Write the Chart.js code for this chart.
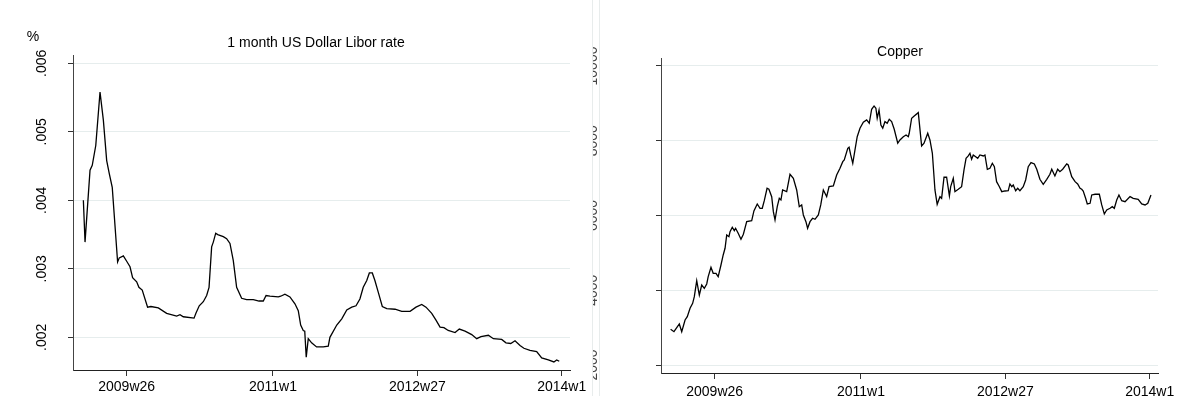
<!DOCTYPE html>
<html><head><meta charset="utf-8">
<script src="https://cdn.jsdelivr.net/npm/chart.js@4/dist/chart.umd.min.js"></script>
<style>
html,body{margin:0;padding:0;background:#fff;width:1180px;height:396px;overflow:hidden}
#l{position:absolute;left:0;top:0}
#r{position:absolute;left:590px;top:0}
</style></head><body>
<canvas id="l" width="590" height="396"></canvas>
<canvas id="r" width="590" height="396"></canvas>
<script>
const FONT = '"Liberation Sans", Arial, Helvetica, sans-serif';

const weekTicks = [2573, 2652, 2730, 2808];
const weekTickLabels = ['2009w26', '2011w1', '2012w27', '2014w1'];
const liborTicks = [0.002, 0.003, 0.004, 0.005, 0.006];
const liborTickLabels = ['.002', '.003', '.004', '.005', '.006'];
const copperTicks = [2000, 4000, 6000, 8000, 10000];
const copperTickLabels = ['2000', '4000', '6000', '8000', '10000'];

const liborWeek = [2549.6, 2550.5, 2553.2, 2554.4, 2556.3, 2558.6, 2560.4, 2562.2, 2563.6, 2565.2,
  2568.1, 2569, 2571.2, 2573, 2574.8, 2576.2, 2578.4, 2579.6, 2581.4, 2584.3,
  2586.1, 2590.1, 2594.6, 2600, 2601.8, 2603.6, 2609.4, 2610.4, 2612.2, 2614.4,
  2616.2, 2617.5, 2618.9, 2619.8, 2621.1, 2622.2, 2625.2, 2627, 2628.8, 2630.6,
  2632.4, 2635.1, 2637.8, 2641.4, 2644.5, 2646.8, 2648.3, 2650.4, 2654.9, 2656.2,
  2658.5, 2661.2, 2663.9, 2665.7, 2667, 2668.4, 2669.2, 2670, 2671.1, 2672.9,
  2675.6, 2679.2, 2681.9, 2682.8, 2686.5, 2689.2, 2691.9, 2694.6, 2696.9, 2699,
  2700.8, 2702.7, 2704.1, 2705.7, 2707.1, 2708.9, 2711.1, 2713.5, 2718, 2721.6,
  2726.1, 2729.3, 2732.4, 2734.7, 2737.8, 2740.1, 2742.3, 2744.4, 2746.7, 2750.4,
  2752.7, 2755.8, 2759.4, 2762.1, 2764.4, 2768.4, 2771.1, 2775.6, 2777.9, 2780.5,
  2782.8, 2785.5, 2787.6, 2790.9, 2794.5, 2797.2, 2800.8, 2803.8, 2805.3, 2806.7];
const liborRate = [.0040, .00339, .00444, .00451, .00480, .00558, .00517, .00458, .00439, .00419,
  .0031, .00316, .00319, .00311, .00303, .00287, .00281, .00273, .00269, .00244,
  .00245, .00243, .00235, .00231, .00233, .0023, .00228, .00235, .00246, .00252,
  .00261, .00273, .00332, .00339, .00352, .0035, .00347, .00344, .00337, .00312,
  .00273, .00257, .00255, .00255, .00253, .00253, .00261, .0026, .00259, .0026,
  .00263, .00259, .00249, .00239, .00218, .0021, .00209, .00171, .00198, .00192,
  .00186, .00186, .00187, .002, .00218, .00227, .0024, .00244, .00246, .00256,
  .00273, .00283, .00294, .00294, .00283, .00266, .00245, .00242, .00241, .00238,
  .00238, .00244, .00248, .00244, .00235, .00225, .00215, .00214, .0021, .00207,
  .00212, .00209, .00204, .00198, .00201, .00203, .00198, .00197, .00192, .00191,
  .00195, .00188, .00184, .00181, .00179, .0017, .00167, .00164, .00167, .00165];

const copperWeek = [2549.2, 2551.0, 2552.5, 2553.9, 2555.2, 2557.0, 2558.2, 2559.7, 2561.1, 2562.0,
  2563.3, 2564.7, 2566.0, 2567.4, 2568.7, 2569.5, 2571.0, 2572.2, 2573.7, 2574.9,
  2576.4, 2577.6, 2578.6, 2579.5, 2580.7, 2581.3, 2582.5, 2583.6, 2584.3, 2585.7,
  2587.2, 2588.5, 2590.3, 2593.0, 2594.2, 2596.0, 2597.5, 2598.7, 2599.8, 2601.3,
  2602.3, 2603.8, 2604.7, 2605.6, 2606.8, 2607.9, 2608.8, 2609.7, 2611.9, 2613.7,
  2615.5, 2617.3, 2618.7, 2620.0, 2620.9, 2622.3, 2623.2, 2624.5, 2625.9, 2627.2,
  2629.0, 2630.3, 2631.7, 2632.6, 2633.5, 2634.8, 2637.1, 2638.9, 2640.7, 2642.2,
  2643.0, 2644.9, 2645.6, 2646.5, 2647.6, 2648.8, 2650.0, 2651.5, 2653.3, 2655.1,
  2656.5, 2657.8, 2659.1, 2660.1, 2660.8, 2661.8, 2662.8, 2663.8, 2665.0, 2666.2,
  2667.3, 2668.6, 2670.0, 2671.9, 2673.1, 2674.9, 2676.4, 2677.6, 2678.1, 2679.4,
  2680.8, 2683.0, 2684.8, 2686.1, 2688.1, 2689.3, 2690.6, 2692.0, 2693.2, 2694.7,
  2695.6, 2696.9, 2698.3, 2699.8, 2700.5, 2701.9, 2702.8, 2704.6, 2706.4, 2707.7,
  2708.8, 2710.0, 2710.9, 2711.8, 2712.7, 2714.0, 2715.1, 2716.3, 2718.1, 2719.0,
  2720.3, 2721.7, 2723.0, 2724.1, 2725.3, 2726.6, 2728.1, 2729.8, 2731.6, 2732.5,
  2733.5, 2734.3, 2735.6, 2736.7, 2737.9, 2739.7, 2741.0, 2742.4, 2743.9, 2745.7,
  2747.0, 2748.7, 2750.5, 2752.4, 2754.1, 2755.1, 2756.8, 2758.3, 2759.5, 2761.0,
  2763.2, 2764.0, 2765.9, 2767.7, 2769.1, 2770.4, 2771.3, 2772.1, 2773.4, 2774.3,
  2775.8, 2776.7, 2778.5, 2780.8, 2782.1, 2783.5, 2784.8, 2786.6, 2787.8, 2788.9,
  2790.2, 2791.4, 2792.9, 2794.7, 2797.4, 2799.1, 2801.8, 2803.7, 2805.5, 2807.0,
  2808.7];
const copperPrice = [2955, 2891, 2998, 3097, 2891, 3204, 3293, 3517, 3651, 3828,
  4256, 3873, 4141, 4052, 4168, 4363, 4614, 4454, 4454, 4363,
  4676, 4944, 5123, 5479, 5433, 5567, 5685, 5594, 5658, 5524,
  5364, 5498, 5835, 5862, 6121, 6308, 6193, 6193, 6397, 6728,
  6702, 6504, 6102, 5880, 6236, 6461, 6415, 6683, 6638, 7103,
  6996, 6683, 6236, 6282, 6014, 5835, 5658, 5835, 5926, 5899,
  6014, 6282, 6683, 6595, 6504, 6771, 6790, 7084, 7264, 7440,
  7486, 7799, 7826, 7620, 7397, 7753, 8109, 8334, 8495, 8556,
  8468, 8843, 8931, 8869, 8602, 8824, 8422, 8334, 8511, 8468,
  8575, 8511, 8307, 7933, 8021, 8109, 8155, 8109, 8200, 8602,
  8663, 8752, 7860, 7933, 8200, 8021, 7665, 6683, 6300, 6504,
  6461, 7023, 7023, 6522, 6771, 6996, 6638, 6702, 6771, 7218,
  7531, 7593, 7665, 7504, 7620, 7574, 7530, 7620, 7593, 7620,
  7237, 7264, 7397, 7307, 6905, 6790, 6638, 6656, 6664, 6844,
  6771, 6817, 6664, 6728, 6664, 6771, 6951, 7307, 7414, 7379,
  7237, 6969, 6836, 6969, 7103, 7237, 7058, 7237, 7173, 7237,
  7379, 7352, 7039, 6905, 6844, 6728, 6702, 6656, 6461, 6308,
  6327, 6549, 6568, 6568, 6282, 6041, 6148, 6193, 6236, 6193,
  6415, 6549, 6397, 6370, 6504, 6461, 6434, 6308, 6282, 6327,
  6549];

const panelDecor = {
  id: 'panelDecor',
  afterDraw(chart, args, o) {
    const ctx = chart.ctx;
    const ys = chart.scales.y;
    ctx.save();
    if (o.sepLines) {
      ctx.strokeStyle = '#e8ecec';
      ctx.lineWidth = 1;
      o.sepLines.forEach(x => {
        ctx.beginPath(); ctx.moveTo(x + 0.5, 0); ctx.lineTo(x + 0.5, chart.height); ctx.stroke();
      });
    }
    ctx.fillStyle = '#000';
    ctx.font = '14px ' + FONT;
    ctx.textAlign = 'center';
    ctx.textBaseline = 'middle';
    ctx.fillText(o.title, o.titleX, o.titleY);
    if (o.unit) ctx.fillText(o.unit, o.unitX, o.unitY);
    if (o.clip) {
      ctx.beginPath();
      ctx.rect(o.clip[0], 0, o.clip[1] - o.clip[0], chart.height);
      ctx.clip();
      ctx.fillStyle = '#444';
    }
    o.ticks.forEach((v, i) => {
      const y = ys.getPixelForValue(v);
      ctx.save();
      ctx.translate(o.labelX, y);
      ctx.rotate(-Math.PI / 2);
      ctx.textAlign = 'center';
      ctx.textBaseline = 'alphabetic';
      ctx.fillText(o.labels[i], 0, 0);
      ctx.restore();
    });
    ctx.restore();
  }
};

function panel(id, weeks, values, p) {
  const pts = weeks.map((w, i) => ({ x: w, y: values[i] }));
  return new Chart(document.getElementById(id), {
    type: 'line',
    data: { datasets: [{ data: pts, borderColor: '#000', borderWidth: 1.3, pointRadius: 0, tension: 0, fill: false }] },
    options: {
      responsive: false, animation: false, events: [],
      layout: { padding: { left: 0, right: p.padRight, top: p.padTop, bottom: 0 } },
      plugins: { legend: { display: false }, tooltip: { enabled: false }, panelDecor: p.decor },
      scales: {
        x: {
          type: 'linear', min: 2544, max: 2812.5,
          afterBuildTicks: s => { s.ticks = weekTicks.map(v => ({ value: v })); },
          afterFit: s => { s.height = p.xH; },
          ticks: { callback: (v, i) => weekTickLabels[i], font: { family: FONT, size: 14 }, color: '#000', maxRotation: 0, minRotation: 0, autoSkip: false, padding: p.xPad },
          grid: { drawOnChartArea: false, drawTicks: true, tickLength: 6, tickColor: '#333', lineWidth: 1 },
          border: { color: '#222', width: 1 }
        },
        y: {
          type: 'linear', min: p.yMin, max: p.yMax,
          afterBuildTicks: s => { s.ticks = p.yTicks.map(v => ({ value: v })); },
          afterFit: s => { s.width = p.yW; },
          ticks: { display: false },
          grid: { color: '#e6eded', lineWidth: 1, drawTicks: true, tickLength: 5, tickColor: '#333' },
          border: { color: '#444', width: 1 }
        }
      }
    },
    plugins: [panelDecor]
  });
}

panel('l', liborWeek, liborRate, {
  padRight: 20, padTop: 55, xH: 26, yW: 73, xPad: 3,
  yMin: 0.001523, yMax: 0.006121, yTicks: liborTicks,
  decor: { title: '1 month US Dollar Libor rate', titleX: 316, titleY: 43, unit: '%', unitX: 33, unitY: 37,
    ticks: liborTicks, labels: liborTickLabels, labelX: 46 }
});

panel('r', copperWeek, copperPrice, {
  padRight: 22, padTop: 58, xH: 23, yW: 71, xPad: 5,
  yMin: 1786, yMax: 10214, yTicks: copperTicks,
  decor: { title: 'Copper', titleX: 310, titleY: 52,
    ticks: copperTicks, labels: copperTickLabels, labelX: 7, clip: [3, 7], sepLines: [2, 9] }
});
</script>
</body></html>
